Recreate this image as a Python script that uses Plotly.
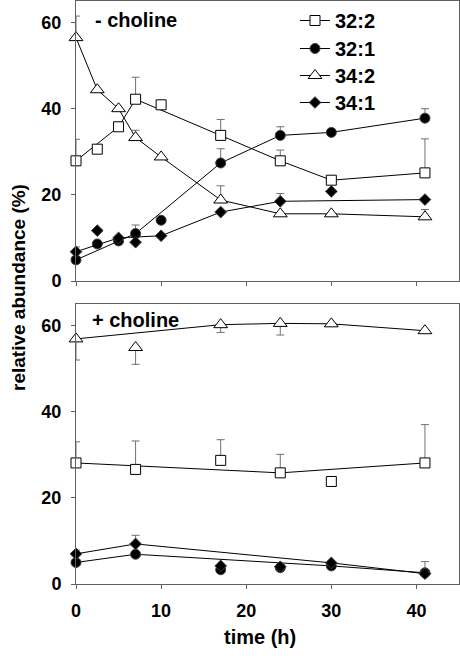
import plotly.graph_objects as go

# ---------------- data ----------------
series_names = ["32:2", "32:1", "34:2", "34:1"]

# - choline (top panel)
t_minus = [0, 2.5, 5, 7, 10, 17, 24, 30, 41]
m_32_2 = [27.9, 30.6, 35.8, 42.2, 40.9, 33.8, 27.9, 23.4, 25.1]
m_32_1 = [4.9, 8.6, 9.3, 11.0, 14.1, 27.4, 33.8, 34.5, 37.8]
m_34_2 = [56.5, 44.4, 40.0, 33.3, 28.8, 18.8, 15.6, 15.6, 14.9]
m_34_1 = [6.8, 11.7, 10.0, 9.0, 10.5, 16.0, 18.5, 20.8, 18.9]
m_err_32_2 = [5.0, 0, 0, 5.1, 0, 3.7, 2.5, 0, 7.9]
m_err_32_1 = [0, 0, 0, 2.0, 0, 3.3, 2.0, 0, 2.2]
m_err_34_2 = [5.0, 0, 0, 1.7, 0, 3.3, 0, 0, 1.7]
m_err_34_1 = [1.1, 0, 0, 0, 0, 0, 1.8, 0, 0]
m_line_32_2 = [0, 2, 3, 5, 6, 7, 8]
m_line_32_1 = [0, 2, 3, 5, 6, 7, 8]
m_line_34_2 = [0, 1, 2, 3, 4, 5, 6, 7, 8]
m_line_34_1 = [0, 2, 4, 5, 6, 8]

# + choline (bottom panel)
t_plus = [0, 7, 17, 24, 30, 41]
p_32_2 = [28.1, 26.6, 28.7, 25.8, 23.8, 28.1]
p_32_1 = [5.0, 6.9, 3.3, 3.8, 4.2, 2.6]
p_34_2 = [56.9, 54.9, 60.2, 60.5, 60.4, 58.8]
p_34_1 = [7.0, 9.3, 4.2, 4.0, 4.9, 2.4]
p_err_up_32_2 = [4.9, 6.6, 4.8, 4.3, 0, 8.9]
p_err_dn_34_2 = [4.9, 3.9, 1.8, 2.7, 0, 0]
p_err_up_34_1 = [0.9, 2.0, 0, 0, 0, 2.8]
p_line_32_2 = [0, 3, 5]
p_line_32_1 = [0, 1, 4, 5]
p_line_34_2 = [0, 2, 3, 4, 5]
p_line_34_1 = [0, 1, 4, 5]

x_ticks = [0, 10, 20, 30, 40]
y_ticks = [0, 20, 40, 60]

# ---------------- styles ----------------
FONT = "Arial, Liberation Sans, sans-serif"
AX = "#606060"
ERR = "#707070"
styles = {
    "32:2": dict(symbol="square", size=10, color="white", line=dict(color="black", width=1)),
    "32:1": dict(symbol="circle", size=10, color="black", line=dict(color="#404040", width=1)),
    "34:2": dict(symbol="triangle-up", size=12, color="white", line=dict(color="black", width=1)),
    "34:1": dict(symbol="diamond", size=9, color="black", line=dict(color="#404040", width=1)),
}

fig = go.Figure()


def add_series(name, t, y, idx, xa, ya, up=None, dn=None):
    lx = [t[i] for i in idx]
    ly = [y[i] for i in idx]
    fig.add_trace(go.Scatter(x=lx, y=ly, mode="lines", line=dict(color="black", width=1),
                             xaxis=xa, yaxis=ya, showlegend=False, hoverinfo="skip",
                             cliponaxis=False))
    err = None
    if up is not None or dn is not None:
        err = dict(type="data", symmetric=False,
                   array=up if up is not None else [0] * len(t),
                   arrayminus=dn if dn is not None else [0] * len(t),
                   color=ERR, thickness=1, width=4)
    fig.add_trace(go.Scatter(x=t, y=y, mode="markers", marker=styles[name],
                             error_y=err, xaxis=xa, yaxis=ya, showlegend=False,
                             cliponaxis=False))


# top panel
add_series("32:2", t_minus, m_32_2, m_line_32_2, "x", "y", up=m_err_32_2)
add_series("32:1", t_minus, m_32_1, m_line_32_1, "x", "y", up=m_err_32_1)
add_series("34:2", t_minus, m_34_2, m_line_34_2, "x", "y", up=m_err_34_2)
add_series("34:1", t_minus, m_34_1, m_line_34_1, "x", "y", up=m_err_34_1)

# bottom panel
add_series("32:2", t_plus, p_32_2, p_line_32_2, "x2", "y2", up=p_err_up_32_2)
add_series("32:1", t_plus, p_32_1, p_line_32_1, "x2", "y2")
add_series("34:2", t_plus, p_34_2, p_line_34_2, "x2", "y2", dn=p_err_dn_34_2)
add_series("34:1", t_plus, p_34_1, p_line_34_1, "x2", "y2", up=p_err_up_34_1)

H_PLOT = 583
W_PLOT = 383
legend_keys = ["legend", "legend2", "legend3", "legend4"]
legend_row_px = [18, 46, 73, 100]

# legend entries (one legend per row for exact spacing)
for name, lk in zip(series_names, legend_keys):
    fig.add_trace(go.Scatter(x=[None], y=[None], mode="lines+markers", name=name,
                             marker=styles[name], line=dict(color="black", width=1),
                             xaxis="x", yaxis="y", legend=lk))

axis_common = dict(showline=True, linecolor=AX, linewidth=1, mirror=True,
                   showgrid=False, zeroline=False, ticks="outside", ticklen=4,
                   tickcolor=AX, tickwidth=1,
                   tickfont=dict(family=FONT, size=18, color="black", weight="bold"))

top_lo = (584 - 281) / H_PLOT
bot_hi = (584 - 304) / H_PLOT

legend_layout = {}
for lk, row in zip(legend_keys, legend_row_px):
    legend_layout[lk] = dict(x=(295 - 76) / W_PLOT, y=1 - (row - 18) / H_PLOT,
                             xanchor="left", yanchor="top",
                             bgcolor="rgba(0,0,0,0)", borderwidth=0,
                             font=dict(family=FONT, size=20, color="black", weight="bold"),
                             itemwidth=30)

fig.update_layout(
    width=460, height=656,
    margin=dict(l=76, r=1, t=1, b=72),
    paper_bgcolor="white", plot_bgcolor="white",
    font=dict(family=FONT, color="black"),
    xaxis=dict(axis_common, domain=[0, 1], range=[0, 45], tickvals=x_ticks,
               showticklabels=False, anchor="y"),
    yaxis=dict(axis_common, domain=[top_lo, 1], range=[0, 65], tickvals=y_ticks,
               anchor="x", ticklabelstandoff=6),
    xaxis2=dict(axis_common, domain=[0, 1], range=[0, 45], tickvals=x_ticks,
                anchor="y2", ticklabelstandoff=6),
    yaxis2=dict(axis_common, domain=[0, bot_hi], range=[0, 65], tickvals=y_ticks,
                anchor="x2", ticklabelstandoff=6),
    showlegend=True,
    annotations=[
        dict(text="- choline", xref="paper", yref="paper", x=(93 - 76) / W_PLOT,
             y=1 - (20 - 1) / H_PLOT, xanchor="left", yanchor="middle", showarrow=False,
             font=dict(family=FONT, size=20, weight="bold")),
        dict(text="+ choline", xref="paper", yref="paper", x=(90 - 76) / W_PLOT,
             y=(584 - 320) / H_PLOT, xanchor="left", yanchor="middle", showarrow=False,
             font=dict(family=FONT, size=20, weight="bold")),
        dict(text="time (h)", xref="paper", yref="paper", x=(260 - 76) / W_PLOT,
             y=-(637 - 584) / H_PLOT, xanchor="center", yanchor="middle", showarrow=False,
             font=dict(family=FONT, size=20, weight="bold")),
        dict(text="relative abundance (%)", xref="paper", yref="paper",
             x=-(76 - 18) / W_PLOT, y=(584 - 288) / H_PLOT, xanchor="center",
             yanchor="middle", textangle=-90, showarrow=False,
             font=dict(family=FONT, size=19, weight="bold")),
    ],
    **legend_layout,
)

fig.write_html("out.html", config={"displayModeBar": False},
               post_script="document.body.style.margin='0';")
